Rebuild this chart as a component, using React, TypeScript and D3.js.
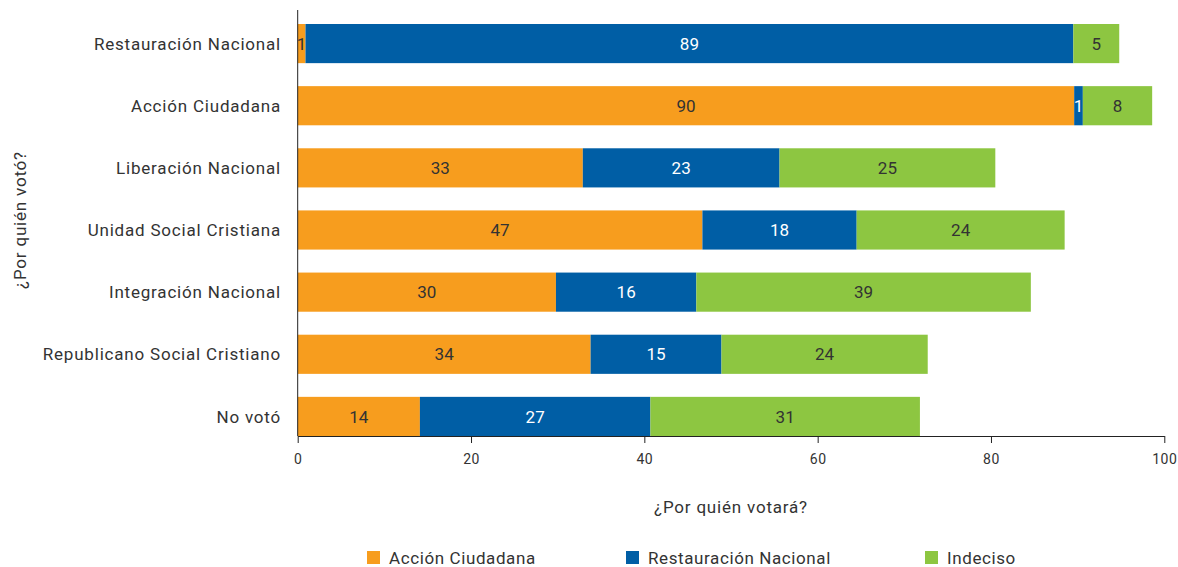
import { useEffect, useRef } from 'react';
import * as d3 from 'd3';

const categories = [
  'Restauración Nacional',
  'Acción Ciudadana',
  'Liberación Nacional',
  'Unidad Social Cristiana',
  'Integración Nacional',
  'Republicano Social Cristiano',
  'No votó',
];
const seriesNames = ['Acción Ciudadana', 'Restauración Nacional', 'Indeciso'];
const accionCiudadana = [0.9, 89.6, 32.9, 46.7, 29.8, 33.8, 14.1];
const restauracionNacional = [88.6, 1.0, 22.7, 17.8, 16.2, 15.1, 26.6];
const indeciso = [5.3, 8.0, 24.9, 24.0, 38.6, 23.8, 31.1];
const xTicks = [0, 20, 40, 60, 80, 100];

const colors = ['#F79D1E', '#005EA5', '#8DC641'];
const labelColors = ['#333', '#fff', '#333'];
const FONT = 'Roboto, "Noto Sans", sans-serif';

type Row = { cat: string; [k: string]: number | string };

const App = () => {
  const ref = useRef<SVGSVGElement | null>(null);
  const width = 1178;
  const height = 567;

  useEffect(() => {
    const svg = d3.select(ref.current);
    svg.selectAll('*').remove();

    const left = 297.7;
    const right = 1164.3;
    const top = 24;
    const bottom = 436;

    const rows: Row[] = categories.map((cat, i) => ({
      cat,
      [seriesNames[0]]: accionCiudadana[i],
      [seriesNames[1]]: restauracionNacional[i],
      [seriesNames[2]]: indeciso[i],
    }));

    const stack = d3.stack<Row>().keys(seriesNames).value((d, k) => d[k] as number);
    const series = stack(rows);

    const x = d3.scaleLinear().domain([0, 100]).range([left, right]);
    const y = d3
      .scaleBand()
      .domain(categories)
      .range([top, bottom])
      .paddingInner(0.37)
      .paddingOuter(0);

    const g = svg.append('g');

    series.forEach((s, si) => {
      const grp = g.append('g');
      grp
        .selectAll('rect')
        .data(s)
        .enter()
        .append('rect')
        .attr('x', d => x(d[0]))
        .attr('y', d => y(d.data.cat)!)
        .attr('width', d => x(d[1]) - x(d[0]))
        .attr('height', y.bandwidth())
        .attr('fill', colors[si]);

      grp
        .selectAll('text')
        .data(s)
        .enter()
        .append('text')
        .attr('x', d => (x(d[0]) + x(d[1])) / 2)
        .attr('y', d => y(d.data.cat)! + y.bandwidth() / 2)
        .attr('dy', '0.36em')
        .attr('text-anchor', 'middle')
        .attr('font-family', FONT)
        .attr('font-size', 17)
        .attr('fill', labelColors[si])
        .text(d => d3.format('.0f')(d[1] - d[0]));
    });

    // y axis
    g.append('line')
      .attr('x1', left)
      .attr('x2', left)
      .attr('y1', 10)
      .attr('y2', bottom)
      .attr('stroke', '#222')
      .attr('stroke-width', 1);

    g.selectAll('.ylab')
      .data(categories)
      .enter()
      .append('text')
      .attr('x', 281)
      .attr('y', d => y(d)! + y.bandwidth() / 2)
      .attr('dy', '0.36em')
      .attr('text-anchor', 'end')
      .attr('font-family', FONT)
      .attr('font-size', 17)
      .attr('letter-spacing', 0.8)
      .attr('fill', '#333')
      .text(d => d);

    // x axis
    const xAxis = g
      .append('g')
      .attr('transform', `translate(0,${bottom})`)
      .call(d3.axisBottom(x).tickValues(xTicks).tickSize(7).tickSizeOuter(0).tickPadding(11));
    xAxis.select('.domain').attr('stroke', '#222');
    xAxis.selectAll('.tick line').attr('stroke', '#222');
    xAxis
      .selectAll('.tick text')
      .attr('font-family', FONT)
      .attr('font-size', 14)
      .attr('letter-spacing', 0.5)
      .attr('fill', '#333');

    g.append('text')
      .attr('x', (left + right) / 2)
      .attr('y', 513)
      .attr('text-anchor', 'middle')
      .attr('font-family', FONT)
      .attr('font-size', 17)
      .attr('letter-spacing', 0.8)
      .attr('fill', '#333')
      .text('¿Por quién votará?');

    g.append('text')
      .attr('transform', `translate(26,${(top + bottom) / 2 - 10}) rotate(-90)`)
      .attr('text-anchor', 'middle')
      .attr('font-family', FONT)
      .attr('font-size', 17)
      .attr('letter-spacing', 0.8)
      .attr('fill', '#333')
      .text('¿Por quién votó?');

    // legend
    const legendX = [367, 626, 925];
    const legend = g
      .selectAll('.leg')
      .data(seriesNames)
      .enter()
      .append('g')
      .attr('transform', (d, i) => `translate(${legendX[i]},551)`);
    legend
      .append('rect')
      .attr('width', 13)
      .attr('height', 13)
      .attr('fill', (d, i) => colors[i]);
    legend
      .append('text')
      .attr('x', 22)
      .attr('y', 6.5)
      .attr('dy', '0.36em')
      .attr('font-family', FONT)
      .attr('font-size', 17)
      .attr('letter-spacing', 0.6)
      .attr('fill', '#333')
      .text(d => d);
  }, []);

  return (
    <svg
      ref={ref}
      width={width}
      height={height}
      style={{ position: 'absolute', left: 0, top: 0 }}
    ></svg>
  );
};

export default App;
